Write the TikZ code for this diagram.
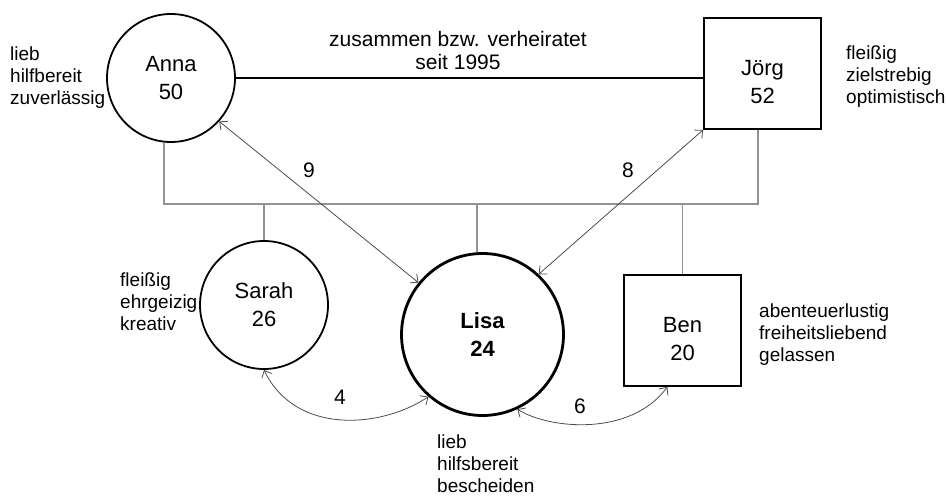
\documentclass[tikz,border=0pt]{standalone}
\usepackage{fontspec}
\setmainfont{Liberation Sans}
\usetikzlibrary{arrows.meta}
\begin{document}
\begin{tikzpicture}[x=1pt,y=-1pt,
  person/.style={draw=black, line width=1.8pt, inner sep=0pt, align=center, font=\fontsize{22}{28}\selectfont},
  fem/.style={person, circle, minimum size=128pt},
  mal/.style={person, rectangle, minimum width=117pt, minimum height=111pt, text height=61pt},
  trait/.style={anchor=west, align=left, inner sep=0pt, font=\fontsize{19}{22}\selectfont},
  tree/.style={draw=gray!85, line width=1.2pt},
  rel/.style={draw=black!70, line width=0.8pt, {Straight Barb[length=6pt,width=11pt]}-{Straight Barb[length=6pt,width=11pt]}},
  num/.style={font=\fontsize{21}{24}\selectfont, inner sep=0pt},
  couple/.style={draw=black, line width=2.6pt}
]
\useasboundingbox (0,0) rectangle (947,495);
\node[fem] (anna) at (171,78) {Anna\\50};
\node[mal] (joerg) at (762.5,73.5) {Jörg\\52};
\node[fem] (sarah) at (264,305) {Sarah\\26};
\node[fem, line width=2.8pt, minimum size=162pt, font=\bfseries\fontsize{22}{28}\selectfont] (lisa) at (482.5,334.5) {Lisa\\24};
\node[mal] (ben) at (682.5,330.5) {Ben\\20};

\node[font=\fontsize{21}{23}\selectfont, align=center, inner sep=0pt] (title) at (458,50) {zusammen bzw. verheiratet\\seit 1995};
\draw[couple] (anna.east) -- (anna.east -| joerg.west);

\coordinate (ta) at (164,204);
\coordinate (tj) at (758,204);
\coordinate (tl) at (477,204);
\draw[tree] (anna.south -| ta) -- (ta) -- (tj) -- (joerg.south -| tj);
\draw[tree] (ta -| sarah.north) -- (sarah.north);
\draw[tree] (tl) -- (lisa.north -| tl);
\draw[tree] (ta -| ben.north) -- (ben.north);

\draw[rel] (anna.-42) -- (lisa.141);
\draw[rel] (joerg.south west) -- (lisa.47);
\draw[rel] (sarah.south) .. controls +(31,65) and +(-48,32) .. (lisa.229);
\draw[rel] (lisa.295) .. controls +(32,20) and +(-37,50) .. (ben.255);

\node[num] (n9) at (309,170) {9};
\node[num] (n8) at (628,170) {8};
\node[num] (n4) at (340,397) {4};
\node[num] (n6) at (580,406) {6};

\node[trait] (annaT) at (10,78) {lieb\\hilfbereit\\zuverlässig};
\node[trait] (joergT) at (846,77) {fleißig\\zielstrebig\\optimistisch};
\node[trait] (sarahT) at (120,302) {fleißig\\ehrgeizig\\kreativ};
\node[trait] (benT) at (759,335) {abenteuerlustig\\freiheitsliebend\\gelassen};
\node[trait] (lisaT) at (437,464) {lieb\\hilfsbereit\\bescheiden};
\end{tikzpicture}
\end{document}
